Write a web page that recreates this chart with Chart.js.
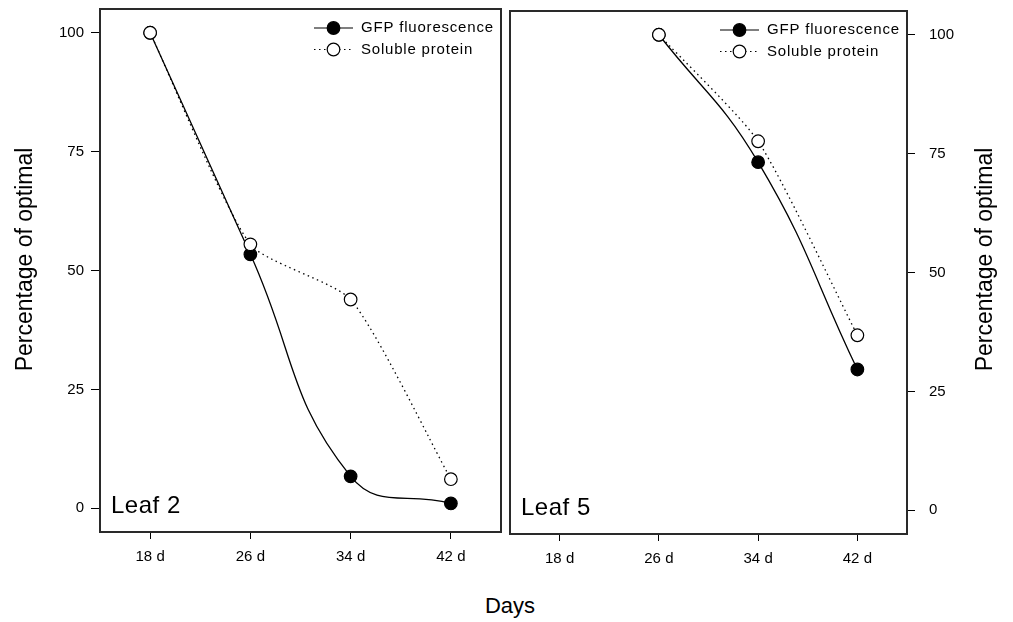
<!DOCTYPE html>
<html lang="en">
<head>
    <meta charset="UTF-8" />
    <title>GFP fluorescence and soluble protein - Leaf 2 / Leaf 5</title>
    <script src="https://cdn.jsdelivr.net/npm/chart.js"></script>
    <style>
        body { margin: 0; background: #fff; width: 1013px; height: 622px; position: relative; overflow: hidden;
               font-family: "Liberation Sans", Arial, sans-serif; }
        #leaf2Chart { position: absolute; left: 0; top: 0; }
        #leaf5Chart { position: absolute; left: 505px; top: 0; }
        #daysLabel { position: absolute; left: 410px; width: 200px; top: 595px; text-align: center;
                     font-size: 22px; line-height: 22px; color: #000; }
    </style>
</head>
<body>
    <canvas id="leaf2Chart" width="505" height="580"></canvas>
    <canvas id="leaf5Chart" width="508" height="580"></canvas>
    <div id="daysLabel">Days</div>

    <script>
        // values (percentage of optimal)
        const categories = ['18 d', '26 d', '34 d', '42 d'];
        const leaf2Gfp = [100, 53.4, 6.7, 1.0];
        const leaf2Protein = [100, 55.5, 43.9, 6.1];
        const leaf5Gfp = [null, 100, 73.2, 29.6];
        const leaf5Protein = [null, 100, 77.6, 36.8];
        const yTicks = [0, 25, 50, 75, 100];
        const yTitle = 'Percentage of optimal';

        const FONT = '"Liberation Sans", Arial, sans-serif';
        Chart.defaults.font.family = FONT;
        Chart.defaults.color = '#000';

        // box, panel name, legend and rotated y title
        const panelDecor = {
            id: 'panelDecor',
            beforeDatasetsDraw(chart) {
                const { ctx, chartArea: a } = chart;
                ctx.save();
                ctx.strokeStyle = '#2a2a2a';
                ctx.lineWidth = 2;
                ctx.strokeRect(a.left, a.top, a.right - a.left, a.bottom - a.top);
                ctx.restore();
            },
            afterDraw(chart, args, opts) {
                const { ctx, chartArea: a } = chart;
                ctx.save();
                ctx.fillStyle = '#000';

                ctx.font = '24px ' + FONT;
                ctx.textAlign = 'left';
                ctx.textBaseline = 'alphabetic';
                ctx.letterSpacing = '0.5px';
                ctx.fillText(opts.panel, a.left + 11, a.bottom - 19);

                chart.data.datasets.forEach((ds, i) => {
                    const y = a.top + 19 + i * 21.5;
                    ctx.strokeStyle = '#000';
                    ctx.lineWidth = 1.2;
                    ctx.setLineDash(ds.borderDash || []);
                    ctx.beginPath();
                    ctx.moveTo(a.right - 187, y);
                    ctx.lineTo(a.right - 148, y);
                    ctx.stroke();
                    ctx.setLineDash([]);
                    ctx.beginPath();
                    ctx.arc(a.right - 167.5, y, 6.3, 0, Math.PI * 2);
                    ctx.fillStyle = ds.pointBackgroundColor;
                    ctx.fill();
                    ctx.stroke();
                    ctx.fillStyle = '#000';
                    ctx.font = '15px ' + FONT;
                    ctx.letterSpacing = '0.8px';
                    ctx.textBaseline = 'middle';
                    ctx.fillText(ds.label, a.right - 140, y);
                });

                ctx.letterSpacing = '0px';
                ctx.translate(opts.titleX, 259.5);
                ctx.rotate(-Math.PI / 2);
                ctx.font = '23px ' + FONT;
                ctx.textAlign = 'center';
                ctx.textBaseline = 'alphabetic';
                ctx.fillText(yTitle, 0, 0);
                ctx.restore();
            }
        };

        function makeDatasets(gfp, protein) {
            return [
                {
                    label: 'GFP fluorescence',
                    data: gfp,
                    order: 2,
                    borderColor: '#000',
                    borderWidth: 1.3,
                    tension: 0.45,
                    pointRadius: 6.3,
                    pointBorderWidth: 1.2,
                    pointBackgroundColor: '#000',
                    pointBorderColor: '#000'
                },
                {
                    label: 'Soluble protein',
                    data: protein,
                    order: 1,
                    borderColor: '#000',
                    borderWidth: 1.3,
                    borderDash: [1.5, 3.5],
                    tension: 0.2,
                    pointRadius: 6.3,
                    pointBorderWidth: 1.2,
                    pointBackgroundColor: '#fff',
                    pointBorderColor: '#000'
                }
            ];
        }

        function makeChart(canvasId, gfp, protein, side, cfg) {
            return new Chart(document.getElementById(canvasId), {
                type: 'line',
                data: { labels: categories, datasets: makeDatasets(gfp, protein) },
                options: {
                    responsive: false,
                    animation: false,
                    layout: { padding: cfg.padding, autoPadding: false },
                    plugins: {
                        legend: { display: false },
                        tooltip: { enabled: false },
                        panelDecor: { panel: cfg.panel, titleX: cfg.titleX }
                    },
                    scales: {
                        x: {
                            type: 'category',
                            offset: true,
                            grid: { offset: false, drawOnChartArea: false, tickLength: 7, color: '#000', lineWidth: 1 },
                            border: { display: false },
                            ticks: { padding: 9, color: '#000', font: { size: 15 }, maxRotation: 0, autoSkip: false },
                            afterFit: s => { s.height = cfg.xHeight; }
                        },
                        y: {
                            position: side,
                            min: -5,
                            max: 105,
                            afterBuildTicks: s => { s.ticks = yTicks.map(v => ({ value: v })); },
                            grid: { drawOnChartArea: false, tickLength: cfg.tickLength, color: '#000', lineWidth: 1 },
                            border: { display: false },
                            ticks: { padding: cfg.tickPad, color: '#000', font: { size: 15 } },
                            afterFit: s => {
                                s.width = cfg.yWidth;
                                // tick labels sit well inside the range, no extra room needed
                                s.paddingTop = 0;
                                s.paddingBottom = 0;
                            }
                        }
                    }
                },
                plugins: [panelDecor]
            });
        }

        makeChart('leaf2Chart', leaf2Gfp, leaf2Protein, 'left', {
            panel: 'Leaf 2', titleX: 32, padding: { top: 9, right: 4, left: 0, bottom: 0 },
            xHeight: 48, yWidth: 100, tickLength: 9, tickPad: 7
        });
        makeChart('leaf5Chart', leaf5Gfp, leaf5Protein, 'right', {
            panel: 'Leaf 5', titleX: 487, padding: { top: 11, right: 0, left: 5, bottom: 0 },
            xHeight: 46, yWidth: 106, tickLength: 8, tickPad: 14
        });
    </script>
</body>
</html>
